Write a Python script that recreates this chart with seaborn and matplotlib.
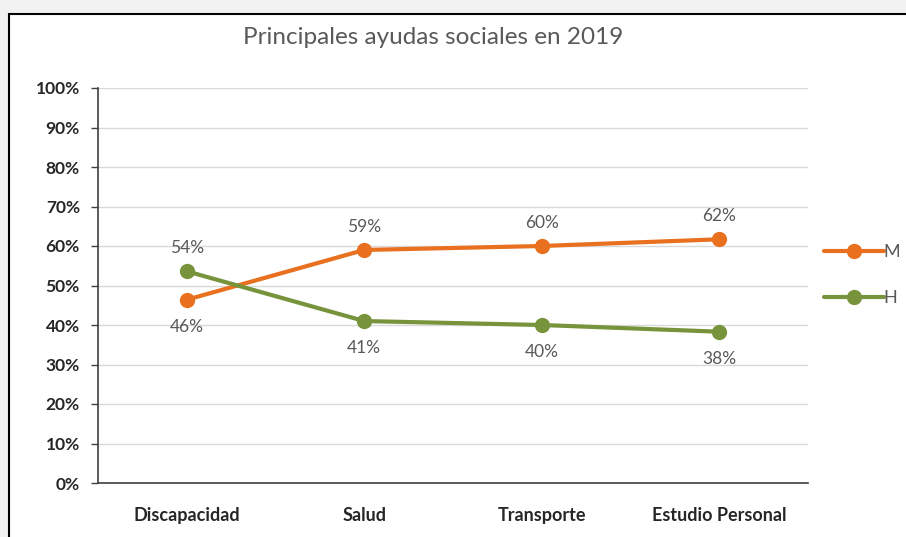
import numpy as np
import pandas as pd
import seaborn as sns
import matplotlib.pyplot as plt
from matplotlib.patches import Rectangle

categorias = ["Discapacidad", "Salud", "Transporte", "Estudio Personal"]
valores_m = [0.464, 0.59, 0.60, 0.617]
valores_h = [0.536, 0.41, 0.40, 0.383]
series = ["M", "H"]
y_ticks = [0.0, 0.1, 0.2, 0.3, 0.4, 0.5, 0.6, 0.7, 0.8, 0.9, 1.0]

df = pd.DataFrame({
    "ayuda": categorias * 2,
    "valor": valores_m + valores_h,
    "sexo": ["M"] * len(categorias) + ["H"] * len(categorias),
})

sns.set_style("white")
plt.rcParams["font.family"] = ["Lato", "DejaVu Sans"]

colores = {"M": "#E8701F", "H": "#77933C"}
gris = "#595959"

fig = plt.figure(figsize=(9.06, 5.37), dpi=100)
fig.patch.set_facecolor("#f2f2f2")
fig.patches.append(Rectangle((9 / 906, -0.01), 1.0, 1 - 14 / 537 + 0.01,
                             transform=fig.transFigure, facecolor="white",
                             edgecolor="black", linewidth=1.5, zorder=-5))

ax = fig.add_axes([98 / 906, 1 - 483 / 537, 710 / 906, (483 - 88) / 537])
ax.set_facecolor("none")

sns.lineplot(data=df, x="ayuda", y="valor", hue="sexo", hue_order=series,
             palette=colores, marker="o", markersize=11, linewidth=3,
             markeredgewidth=0, sort=False, ax=ax, legend=True)

# etiquetas de datos
for i, cat in enumerate(categorias):
    m, h = valores_m[i], valores_h[i]
    for v, otro, s in [(m, h, "M"), (h, m, "H")]:
        if v >= otro:
            ax.annotate(f"{v:.0%}", (i, v), xytext=(0, 11), textcoords="offset points",
                        ha="center", va="bottom", fontsize=12.5, color=gris)
        else:
            ax.annotate(f"{v:.0%}", (i, v), xytext=(0, -14), textcoords="offset points",
                        ha="center", va="top", fontsize=12.5, color=gris)

ax.set_xlim(-0.5, len(categorias) - 0.5)
ax.set_ylim(0, 1)
ax.set_yticks(y_ticks)
ax.set_yticklabels([f"{t:.0%}" for t in y_ticks], fontsize=12.5, fontweight="bold", color="#262626")
ax.set_xticks(range(len(categorias)))
ax.set_xticklabels(categorias, fontsize=13, fontweight="bold", color="#262626")
ax.set_xticks(np.arange(-0.5, len(categorias), 1.0), minor=True)
ax.tick_params(axis="x", which="major", length=0, pad=17)
ax.tick_params(axis="x", which="minor", length=5, width=1, color="#404040", direction="out")
ax.tick_params(axis="y", length=5, width=1, color="#404040", direction="out", pad=8, left=True)
ax.grid(axis="y", color="#d9d9d9", linewidth=1)
ax.set_axisbelow(True)
ax.set_xlabel("")
ax.set_ylabel("")
for lado in ["top", "right"]:
    ax.spines[lado].set_visible(False)
for lado in ["left", "bottom"]:
    ax.spines[lado].set_color("#404040")
    ax.spines[lado].set_linewidth(1.2)

ax.legend(loc="upper left", bbox_to_anchor=(1.0, 0.645), frameon=False,
          handlelength=3.3, labelspacing=1.65, fontsize=13, labelcolor=gris,
          handletextpad=0.0)

fig.text(433 / 906, 1 - 38 / 537, "Principales ayudas sociales en 2019",
         ha="center", va="center", fontsize=17.5, color=gris)

fig.savefig("out.png", dpi=100)
